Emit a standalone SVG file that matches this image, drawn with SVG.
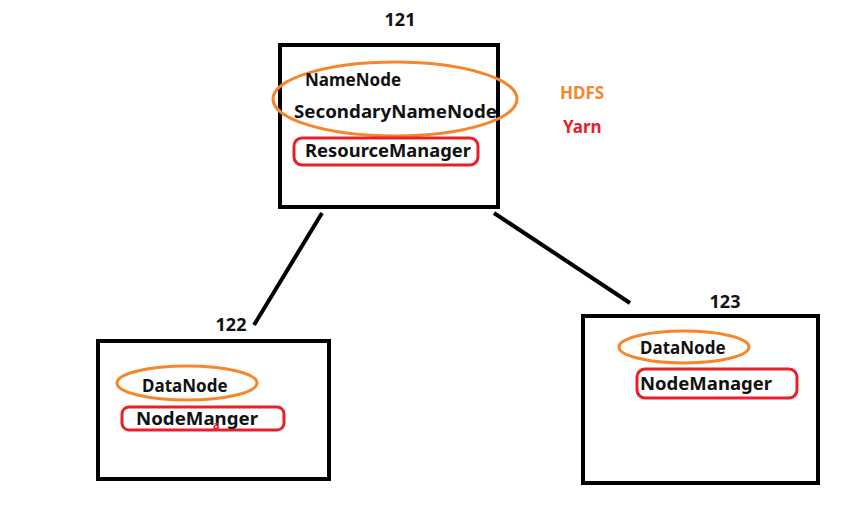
<svg xmlns="http://www.w3.org/2000/svg" width="864" height="521" viewBox="0 0 864 521">
<style>
.box{fill:none;stroke:#000;stroke-width:4}
.t{font-family:"Noto Sans","Liberation Sans",sans-serif;font-weight:bold;font-size:17px;fill:#111}
.lbl{font-family:"Noto Sans","Liberation Sans",sans-serif;font-weight:bold;font-size:18px;fill:#111}
.hdfs{fill:none;stroke:#f5862b;stroke-width:3}
.yarn{fill:none;stroke:#e8202a;stroke-width:3}
.conn{stroke:#000;stroke-width:4;fill:none}
</style>
<rect width="864" height="521" fill="#fff"/>
<g id="connectors">
<line class="conn" x1="322" y1="213" x2="254" y2="325"/>
<line class="conn" x1="494" y1="213" x2="630" y2="303"/>
</g>
<g id="node121">
<text class="lbl" x="400" y="26" text-anchor="middle">121</text>
<rect class="box" x="280" y="45" width="218" height="162"/>
<ellipse class="hdfs" cx="395" cy="99" rx="122" ry="37"/>
<text class="t" x="305" y="86">NameNode</text>
<text class="t" x="294" y="118" textLength="203" lengthAdjust="spacingAndGlyphs">SecondaryNameNode</text>
<rect class="yarn" x="294" y="138" width="184" height="27" rx="8"/>
<text class="t" x="305" y="157" textLength="166" lengthAdjust="spacingAndGlyphs">ResourceManager</text>
</g>
<g id="legend">
<text class="t" x="560" y="99" fill="#f5862b" style="fill:#f5862b">HDFS</text>
<text class="t" x="563" y="133" style="fill:#e8202a">Yarn</text>
</g>
<g id="node122">
<text class="lbl" x="231" y="331" text-anchor="middle">122</text>
<rect class="box" x="98" y="341" width="231" height="138"/>
<ellipse class="hdfs" cx="187" cy="383" rx="70" ry="17"/>
<text class="t" x="142" y="392">DataNode</text>
<rect class="yarn" x="122" y="407" width="162" height="23" rx="7"/>
<text class="t" x="136" y="425" textLength="122" lengthAdjust="spacingAndGlyphs">NodeManger</text>
<text x="213" y="429" style="font-family:'Noto Sans','Liberation Sans',sans-serif;font-weight:bold;font-size:11px;fill:#e8202a">a</text>
</g>
<g id="node123">
<text class="lbl" x="725" y="308" text-anchor="middle">123</text>
<rect class="box" x="583" y="316" width="235" height="167"/>
<ellipse class="hdfs" cx="684" cy="347" rx="65" ry="16"/>
<text class="t" x="640" y="354">DataNode</text>
<rect class="yarn" x="637" y="369" width="160" height="29" rx="8"/>
<text class="t" x="640" y="390" textLength="132" lengthAdjust="spacingAndGlyphs">NodeManager</text>
</g>
</svg>
